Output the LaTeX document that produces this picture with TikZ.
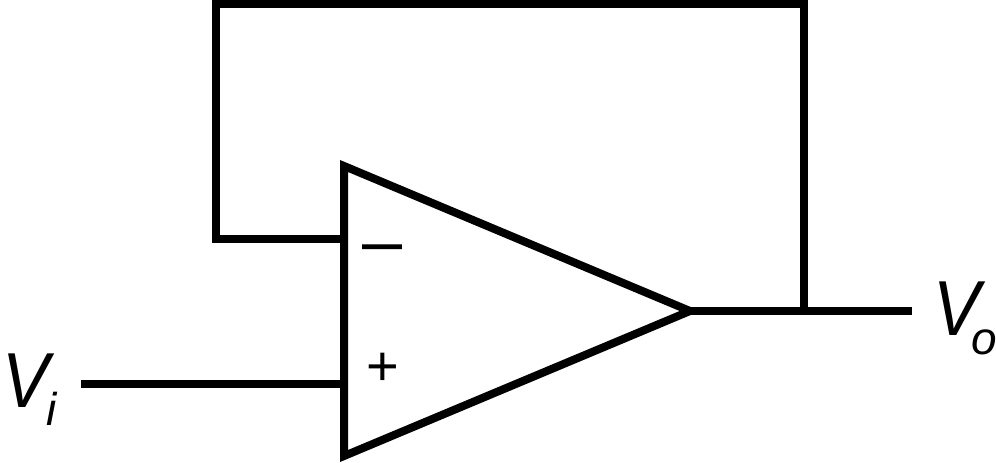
\documentclass[tikz,border=0pt]{standalone}
\usepackage{fontspec}
\setmainfont{Liberation Sans}
\tikzset{wire/.style={line width=8pt, line join=miter, line cap=butt},
	vlabel/.style={inner sep=0pt, xscale=0.9, font=\itshape\fontsize{78}{78}\selectfont},
	sublabel/.style={inner sep=0pt, font=\itshape\fontsize{46}{46}\selectfont},
	pluslabel/.style={inner sep=0pt, font=\fontsize{56}{56}\selectfont},
	minuslabel/.style={inner sep=0pt, font=\fontsize{72}{72}\selectfont}}
\begin{document}
\begin{tikzpicture}[x=1pt, y=-1pt]
	\useasboundingbox (0,0) rectangle (996,463);
	% Triangle of the amplifier
	\coordinate (topcorner) at (344,166);
	\coordinate (botcorner) at (344,456);
	\coordinate (tip) at (690,311);
	\draw[wire] (topcorner) -- (tip) -- (botcorner) -- cycle;
	% Inputs and output
	\coordinate (inminus) at (344,239);
	\coordinate (inplus) at (344,384);
	\coordinate (viend) at (81,384);
	\coordinate (voend) at (912,311);
	\coordinate (fbright) at (804,311);
	\draw[wire] (viend) -- (inplus);
	\draw[wire] (tip) -- (voend);
	% Feedback loop
	\draw[wire] (inminus) -- (216,239) -- (216,4) -- (804,4) -- (fbright);
	% Labels
	\node[minuslabel] (minus) at (383,255) {–};
	\node[pluslabel] (plus) at (383,369) {+};
	\node[vlabel, anchor=base west] (vi) at (2,407) {V};
	\node[sublabel, anchor=base west] (visub) at (46,425) {i};
	\node[vlabel, anchor=base west] (vo) at (933,335) {V};
	\node[sublabel, anchor=base west] (vosub) at (971,354) {o};
\end{tikzpicture}
\end{document}
